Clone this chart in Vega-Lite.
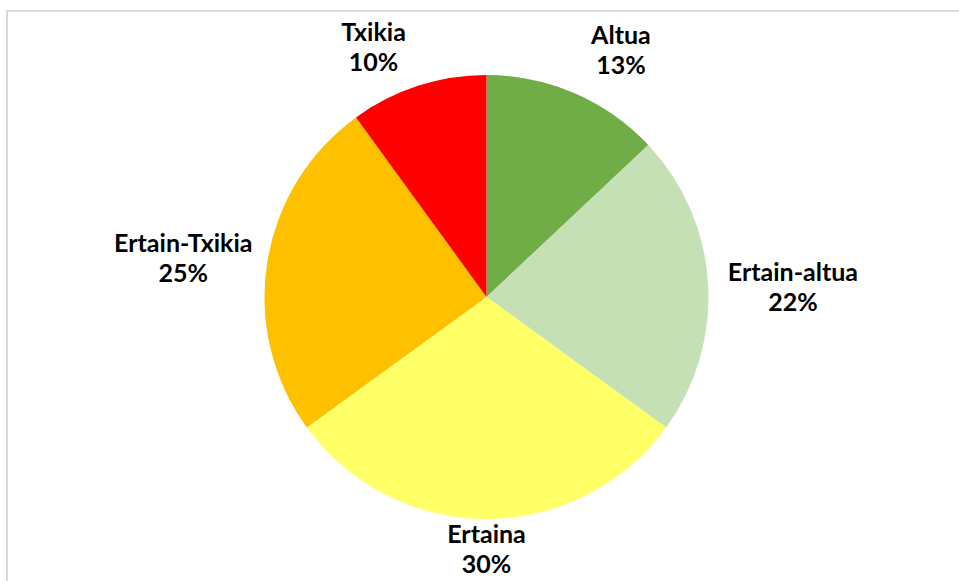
{
  "$schema": "https://vega.github.io/schema/vega-lite/v6.json",
  "width": 959,
  "height": 572,
  "autosize": {"type": "none"},
  "padding": {"left": 7, "top": 11, "right": 0, "bottom": 0},
  "background": "white",
  "config": {"view": {"stroke": null}},
  "data": {
    "values": [
      {"cat": "Altua", "pct": 13, "i": 1},
      {"cat": "Ertain-altua", "pct": 22, "i": 2},
      {"cat": "Ertaina", "pct": 30, "i": 3},
      {"cat": "Ertain-Txikia", "pct": 25, "i": 4},
      {"cat": "Txikia", "pct": 10, "i": 5}
    ]
  },
  "transform": [
    {"stack": "pct", "groupby": [], "sort": [{"field": "i", "order": "ascending"}], "as": ["s0", "s1"]},
    {"calculate": "(datum.s0 + datum.s1) / 2", "as": "mid"},
    {"calculate": "datum.cat + '\\n' + datum.pct + '%'", "as": "label"}
  ],
  "layer": [
    {
      "data": {"values": [{"frame": 1}]},
      "mark": {"type": "rect", "fill": null, "stroke": "#d9d9d9", "strokeWidth": 2},
      "encoding": {}
    },
    {
      "mark": {"type": "arc", "outerRadius": 222},
      "encoding": {
        "theta": {"field": "s0", "type": "quantitative", "scale": {"domain": [0, 100], "range": [0, 6.283185307]}},
        "theta2": {"field": "s1"},
        "color": {
          "field": "cat", "type": "nominal", "legend": null,
          "scale": {
            "domain": ["Altua", "Ertain-altua", "Ertaina", "Ertain-Txikia", "Txikia"],
            "range": ["#70AD47", "#C5E0B4", "#FFFF66", "#FFC000", "#FF0000"]
          }
        }
      }
    },
    {
      "transform": [{"filter": "datum.cat == 'Altua'"}],
      "mark": {"type": "text", "radius": 268, "dx": 28, "dy": -15, "font": "Lato", "fontWeight": "bold", "fontSize": 25, "lineBreak": "\n", "lineHeight": 30, "align": "center", "baseline": "middle", "color": "#000000"},
      "encoding": {
        "theta": {"field": "mid", "type": "quantitative"},
        "text": {"field": "label"}
      }
    },
    {
      "transform": [{"filter": "datum.cat == 'Txikia'"}],
      "mark": {"type": "text", "radius": 262, "dx": -32, "dy": -15, "font": "Lato", "fontWeight": "bold", "fontSize": 25, "lineBreak": "\n", "lineHeight": 30, "align": "center", "baseline": "middle", "color": "#000000"},
      "encoding": {
        "theta": {"field": "mid", "type": "quantitative"},
        "text": {"field": "label"}
      }
    },
    {
      "transform": [{"filter": "datum.cat == 'Ertain-altua' || datum.cat == 'Ertain-Txikia'"}],
      "mark": {"type": "text", "radius": 307, "dy": -5, "font": "Lato", "fontWeight": "bold", "fontSize": 25, "lineBreak": "\n", "lineHeight": 30, "align": "center", "baseline": "middle", "color": "#000000"},
      "encoding": {
        "theta": {"field": "mid", "type": "quantitative"},
        "text": {"field": "label"}
      }
    },
    {
      "transform": [{"filter": "datum.cat == 'Ertaina'"}],
      "mark": {"type": "text", "radius": 253, "dy": -15, "font": "Lato", "fontWeight": "bold", "fontSize": 25, "lineBreak": "\n", "lineHeight": 30, "align": "center", "baseline": "middle", "color": "#000000"},
      "encoding": {
        "theta": {"field": "mid", "type": "quantitative"},
        "text": {"field": "label"}
      }
    }
  ]
}
